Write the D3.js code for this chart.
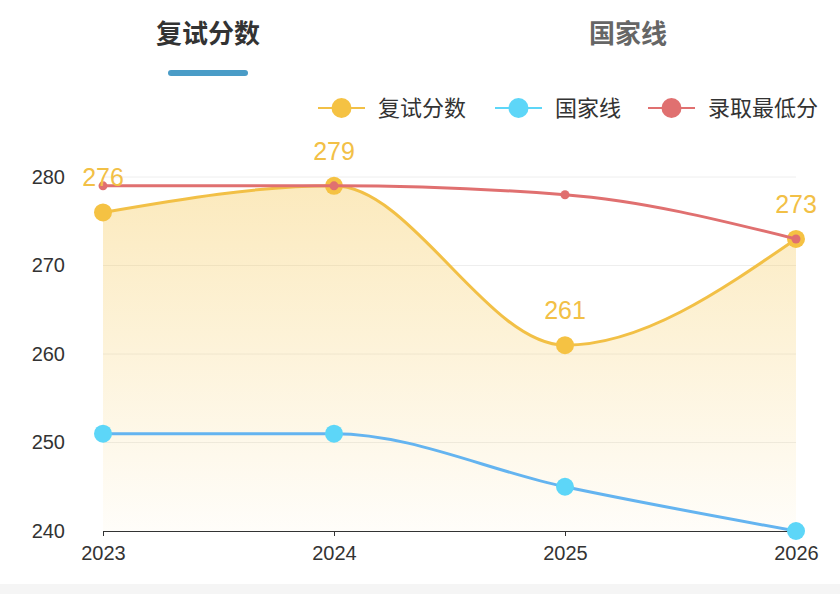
<!DOCTYPE html>
<html><head><meta charset="utf-8">
<script src="https://cdn.jsdelivr.net/npm/d3@7"></script>
<style>body{margin:0;background:#fff;font-family:"Noto Sans CJK SC","Noto Sans",sans-serif;}</style>
</head><body><div id="chartDiv"></div>
<script>
var years = ["2023", "2024", "2025", "2026"];
var scores = [276, 279, 261, 273];
var nationalLine = [251, 251, 245, 240];
var minAdmit = [279, 279, 278, 273];
var yTicks = [240, 250, 260, 270, 280];
var tabs = ["复试分数", "国家线"];
var legendNames = ["复试分数", "国家线", "录取最低分"];

var width = 840, height = 594;
var numFont = "Liberation Sans, Arial, sans-serif";
var svg = d3.select("#chartDiv").append("svg").attr("width", width).attr("height", height);

// bottom strip
svg.append("rect").attr("x", 0).attr("y", 584).attr("width", width).attr("height", 10).attr("fill", "#f5f5f5");

// tabs
svg.selectAll(".tab").data(tabs).enter().append("text")
  .attr("x", function(d, i) { return i === 0 ? 208 : 628; }).attr("y", 43)
  .attr("text-anchor", "middle").style("font-size", "26px").style("font-weight", "bold")
  .attr("fill", function(d, i) { return i === 0 ? "#333" : "#666"; }).text(function(d) { return d; });
svg.append("rect").attr("x", 168).attr("y", 70).attr("width", 80).attr("height", 6).attr("rx", 3).attr("fill", "#4a9cc7");

var x = d3.scalePoint().domain(years).range([103, 796]);
var y = d3.scaleLinear().domain([240, 280]).range([531, 177]);

// grid
svg.selectAll(".grid").data(yTicks.slice(1)).enter().append("line")
  .attr("x1", 103).attr("x2", 796).attr("y1", function(d) { return y(d); }).attr("y2", function(d) { return y(d); })
  .attr("stroke", "#eeeeee");

var yAxis = svg.append("g").attr("transform", "translate(103,0)")
  .call(d3.axisLeft(y).tickValues(yTicks).tickSize(0).tickPadding(38));
yAxis.select(".domain").remove();
yAxis.selectAll("text").style("font-size", "20px").attr("fill", "#333").attr("font-family", numFont);

var xAxis = svg.append("g").attr("transform", "translate(0,531)")
  .call(d3.axisBottom(x).tickSize(5).tickPadding(10));
xAxis.select(".domain").attr("stroke", "#333");
xAxis.selectAll("line").attr("stroke", "#333");
xAxis.selectAll("text").style("font-size", "20px").attr("fill", "#333").attr("font-family", numFont);

var grad = svg.append("defs").append("linearGradient").attr("id", "g1").attr("x1", 0).attr("y1", 0).attr("x2", 0).attr("y2", 1);
grad.append("stop").attr("offset", "0%").attr("stop-color", "#f5c243").attr("stop-opacity", 0.35);
grad.append("stop").attr("offset", "100%").attr("stop-color", "#f5c243").attr("stop-opacity", 0.03);

var curve = d3.curveMonotoneX;
svg.append("path").datum(scores)
  .attr("d", d3.area().x(function(d, i) { return x(years[i]); }).y0(531).y1(function(d) { return y(d); }).curve(curve))
  .attr("fill", "url(#g1)");

function drawLine(vals, color, dot, r) {
  svg.append("path").datum(vals)
    .attr("d", d3.line().x(function(d, i) { return x(years[i]); }).y(function(d) { return y(d); }).curve(curve))
    .attr("fill", "none").attr("stroke", color).attr("stroke-width", 3);
  svg.selectAll(null).data(vals).enter().append("circle")
    .attr("cx", function(d, i) { return x(years[i]); }).attr("cy", function(d) { return y(d); })
    .attr("r", r).attr("fill", dot);
}
drawLine(nationalLine, "#64b4f0", "#5dd6f8", 9);
drawLine(scores, "#f2c046", "#f5c243", 9);
drawLine(minAdmit, "#e07070", "#e07070", 4.5);

svg.selectAll(".lbl").data(scores).enter().append("text")
  .attr("x", function(d, i) { return x(years[i]); }).attr("y", function(d) { return y(d) - 26; })
  .attr("text-anchor", "middle").style("font-size", "25px").attr("fill", "#f2c046")
  .attr("font-family", numFont).text(function(d) { return d; });

// legend
var lgColors = [["#f2c046", "#f5c243"], ["#5dd6f8", "#5dd6f8"], ["#e07070", "#e07070"]];
var lgX = [318, 495, 648];
var lg = svg.selectAll(".lg").data(legendNames).enter().append("g")
  .attr("transform", function(d, i) { return "translate(" + lgX[i] + ",108)"; });
lg.append("line").attr("x1", 0).attr("x2", 47).attr("stroke", function(d, i) { return lgColors[i][0]; }).attr("stroke-width", 2);
lg.append("circle").attr("cx", 23.5).attr("r", 10).attr("fill", function(d, i) { return lgColors[i][1]; });
lg.append("text").attr("x", 60).attr("y", 8).style("font-size", "22px").attr("fill", "#333").text(function(d) { return d; });
</script></body></html>
